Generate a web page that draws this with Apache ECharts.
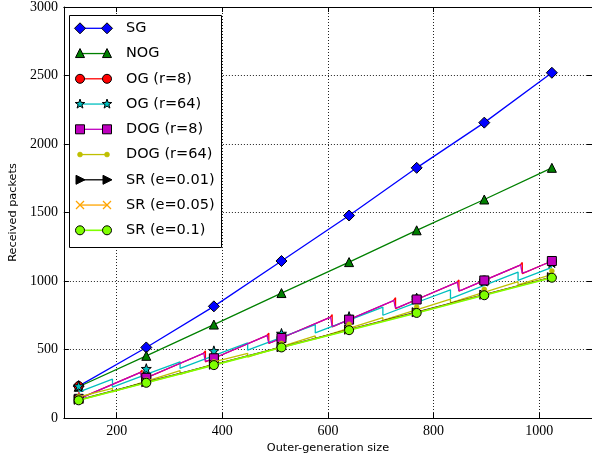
<!DOCTYPE html>
<html><head><meta charset="utf-8">
<script src="https://cdn.jsdelivr.net/npm/echarts@6/dist/echarts.min.js"></script>
<style>html,body{margin:0;padding:0;background:#fff}#c{width:592px;height:461px}</style>
</head><body><div id="c"></div>
<script>
// ---------- data ----------
const markX = [128, 256, 384, 512, 640, 768, 896, 1024];
const sgY  = [233, 515, 815, 1146, 1478, 1826, 2156, 2520];
const nogY = [228, 454, 682, 912, 1138, 1370, 1595, 1826];
const srE001Y = [133, 261, 389, 517, 645, 772, 900, 1028];
const srE005Y = [131, 259, 387, 516, 643, 770, 898, 1026];
const srE01Y  = [129, 257, 386, 515, 641, 767, 896, 1024];

// OG (r=8): marker values and line vertices
const og8Marks = [233, 293, 436, 584, 718, 865, 1004, 1146];
const og8Line = [[129,142],[244,331],[248,350],[248,280],[364,471],[368,490],[368,410],
  [484,601],[488,620],[488,544],[604,735],[608,755],[608,665],[724,856],[728,878],[728,799],
  [844,990],[848,1008],[848,925],[964,1116],[968,1135],[968,1054]];
// DOG (r=8)
const dog8Marks = [140, 293, 436, 584, 718, 865, 1004, 1146];
const dog8Drops = [248, 368, 488, 608, 728, 848, 968];
const dog8Tops  = [338, 478, 608, 742, 863, 997, 1123];
const dog8After = [280, 410, 544, 665, 799, 925, 1054];
// OG (r=64)
const og64Marks = [233, 360, 490, 617, 740, 875, 1000, 1135];
const og64Line = [[129,190],[192,283],[192,225],[255,317],[257,320],[320,410],[320,362],
  [383,454],[385,457],[448,548],[448,495],[511,587],[513,590],[576,682],[576,621],
  [639,714],[641,717],[704,810],[704,750],[767,842],[769,845],[832,936],[832,872],
  [895,967],[897,970],[960,1065],[960,1005],[1023,1098]];
// DOG (r=64)
const dog64Marks = [155, 277, 410, 544, 684, 810, 939, 1073];
const dog64Line = [[129,141],[192,217],[192,191],[255,267],[257,269],[320,345],[320,318],
  [383,394],[385,396],[448,472],[448,445],[511,521],[513,523],[576,599],[576,578],
  [639,654],[641,656],[704,732],[704,713],[767,789],[769,791],[832,867],[832,841],
  [895,917],[897,919],[960,995],[960,971],[1023,1047]];

const xTicks = [200, 400, 600, 800, 1000];
const yTicks = [0, 500, 1000, 1500, 2000, 2500, 3000];
const names = ['SG','NOG','OG (r=8)','OG (r=64)','DOG (r=8)','DOG (r=64)','SR (e=0.01)','SR (e=0.05)','SR (e=0.1)'];

// ---------- build ----------
function dog8Vertices(){
  const v = [[129,141]];
  dog8Drops.forEach((d,i)=>{
    const T = dog8Tops[i], A = dog8After[i];
    v.push([d-3,T-5],[d-1.5,T-40],[d,A+5],[d+1.5,A-3],[d+3.5,A+2],[d+6,A+10]);
  });
  return v;
}
function merge(lineV, marks){
  const items = [];
  marks.forEach((y,i)=>items.push({x:markX[i], y:y, m:true}));
  lineV.forEach(p=>items.push({x:p[0], y:p[1], m:false}));
  items.sort((a,b)=>a.x-b.x);
  return items.map(it=> it.m ? {value:[it.x,it.y]} : {value:[it.x,it.y], symbol:'none'});
}
function simple(ys){ return ys.map((y,i)=>[markX[i], y]); }

const STAR = 'path://M0,-10L2.35,-3.24L9.51,-3.09L3.8,1.24L5.88,8.09L0,4.2L-5.88,8.09L-3.8,1.24L-9.51,-3.09L-2.35,-3.24Z';
const XMARK = 'path://M-10,-8.5L-8.5,-10L0,-1.5L8.5,-10L10,-8.5L1.5,0L10,8.5L8.5,10L0,1.5L-8.5,10L-10,8.5L-1.5,0Z';

const cols = ['#0000ff','#008000','#ff0000','#00bfbf','#bf00bf','#bfbf00','#000000','#ffa500','#7fff00'];
const LW = 1.3;

function ser(i, data, symbol, size, opts){
  return Object.assign({
    name: names[i], type:'line', data: data, z: 2+i,
    symbol: symbol, symbolSize: size, showSymbol: true, showAllSymbol: true,
    lineStyle: {color: cols[i], width: LW},
    itemStyle: {color: cols[i], borderColor: '#000', borderWidth: 1},
    emphasis: {disabled: true}, silent: true
  }, opts || {});
}

const series = [
  ser(0, simple(sgY), 'diamond', 11),
  ser(1, simple(nogY), 'triangle', 9),
  ser(2, merge(og8Line, og8Marks), 'circle', 9),
  ser(3, merge(og64Line, og64Marks), STAR, 10),
  ser(4, merge(dog8Vertices(), dog8Marks), 'rect', 9),
  ser(5, merge(dog64Line, dog64Marks), 'circle', 5, {itemStyle:{color:cols[5], borderColor:cols[5], borderWidth:0.5}}),
  ser(6, simple(srE001Y), 'triangle', 9, {symbolRotate: -90}),
  ser(7, simple(srE005Y), XMARK, 8, {itemStyle:{color:cols[7], borderWidth:0}}),
  ser(8, simple(srE01Y), 'circle', 9, {lineStyle:{color:cols[8], width:1.6}})
];

// ---------- legend (graphic) ----------
const LX0 = 80, LX1 = 107, LTX = 126, LY0 = 28.3, LDY = 25.25;
function mk(kind, cx, cy, color){
  const stroke = '#000';
  switch(kind){
    case 'diamond': return [{type:'polygon', shape:{points:[[cx,cy-5.5],[cx+5.5,cy],[cx,cy+5.5],[cx-5.5,cy]]}, style:{fill:color, stroke:stroke, lineWidth:1}}];
    case 'triangle': return [{type:'polygon', shape:{points:[[cx,cy-5],[cx+4.5,cy+4],[cx-4.5,cy+4]]}, style:{fill:color, stroke:stroke, lineWidth:1}}];
    case 'circle': return [{type:'circle', shape:{cx:cx, cy:cy, r:4.5}, style:{fill:color, stroke:stroke, lineWidth:1}}];
    case 'dot': return [{type:'circle', shape:{cx:cx, cy:cy, r:2.5}, style:{fill:color, stroke:color, lineWidth:0.5}}];
    case 'rect': return [{type:'rect', shape:{x:cx-4.5, y:cy-4.5, width:9, height:9}, style:{fill:color, stroke:stroke, lineWidth:1}}];
    case 'rtri': return [{type:'polygon', shape:{points:[[cx+5,cy],[cx-4,cy-4.5],[cx-4,cy+4.5]]}, style:{fill:color, stroke:stroke, lineWidth:1}}];
    case 'star': {
      const pts=[]; for(let k=0;k<10;k++){const r=k%2?2:5; const a=-Math.PI/2+k*Math.PI/5; pts.push([cx+r*Math.cos(a), cy+r*Math.sin(a)]);}
      return [{type:'polygon', shape:{points:pts}, style:{fill:color, stroke:stroke, lineWidth:1}}];
    }
    case 'x': return [
      {type:'line', shape:{x1:cx-4,y1:cy-4,x2:cx+4,y2:cy+4}, style:{stroke:color, lineWidth:1.3}},
      {type:'line', shape:{x1:cx-4,y1:cy+4,x2:cx+4,y2:cy-4}, style:{stroke:color, lineWidth:1.3}}];
  }
}
const legKinds = ['diamond','triangle','circle','star','rect','dot','rtri','x','circle'];
const gEls = [{type:'rect', shape:{x:69.5, y:15.5, width:152, height:232}, style:{fill:'#fff', stroke:'#000', lineWidth:1}}];
names.forEach((n,i)=>{
  const y = LY0 + i*LDY;
  gEls.push({type:'line', shape:{x1:LX0, y1:y, x2:LX1, y2:y}, style:{stroke:cols[i], lineWidth: i===8?1.6:LW}});
  mk(legKinds[i], LX0, y, cols[i]).forEach(e=>gEls.push(e));
  mk(legKinds[i], LX1, y, cols[i]).forEach(e=>gEls.push(e));
  gEls.push({type:'text', x:LTX, y:y, style:{text:n, fill:'#000', font:'14.5px "DejaVu Sans"', textVerticalAlign:'middle', verticalAlign:'middle'}});
});

// ---------- axes ----------
const serif = 'Liberation Serif';
const tickStyle = {show:true, inside:true, length:5, lineStyle:{color:'#000', width:1}};
const splitStyle = {show:true, lineStyle:{color:'#222', width:1, type:[1,2]}};
const option = {
  animation: false,
  backgroundColor: '#fff',
  grid: {left:62, top:6, width:531, height:412, containLabel:false},
  xAxis: [
    {type:'value', min:100, max:1100, splitNumber:5, position:'bottom',
     axisLine:{show:true, onZero:false, lineStyle:{color:'#000', width:1}},
     axisTick: tickStyle,
     axisLabel:{color:'#000', fontFamily:serif, fontSize:14, margin:6, showMinLabel:false, showMaxLabel:false,
       formatter: v => xTicks.indexOf(v) >= 0 ? String(v) : ''},
     splitLine: splitStyle,
     name:'Outer-generation size', nameLocation:'middle', nameGap:20,
     nameTextStyle:{color:'#000', fontFamily:'DejaVu Sans', fontSize:11.3}},
    {type:'value', min:100, max:1100, splitNumber:5, position:'top',
     axisLine:{show:true, onZero:false, lineStyle:{color:'#000', width:1}},
     axisTick: tickStyle, axisLabel:{show:false}, splitLine:{show:false}}
  ],
  yAxis: [
    {type:'value', min:0, max:3000, interval:500, position:'left',
     axisLine:{show:true, onZero:false, lineStyle:{color:'#000', width:1}},
     axisTick: tickStyle,
     axisLabel:{color:'#000', fontFamily:serif, fontSize:14, margin:6,
       formatter: v => yTicks.indexOf(v) >= 0 ? String(v) : ''},
     splitLine: splitStyle,
     name:'Received packets', nameLocation:'middle', nameGap:41, nameRotate:90,
     nameTextStyle:{color:'#000', fontFamily:'DejaVu Sans', fontSize:11.3}},
    {type:'value', min:0, max:3000, interval:500, position:'right',
     axisLine:{show:true, onZero:false, lineStyle:{color:'#000', width:1}},
     axisTick: tickStyle, axisLabel:{show:false}, splitLine:{show:false}}
  ],
  series: series,
  graphic: {elements: gEls.map(e=>Object.assign({z:100}, e))}
};
const chart = echarts.init(document.getElementById('c'), null, {renderer:'canvas'});
chart.setOption(option);
</script>
</body></html>
